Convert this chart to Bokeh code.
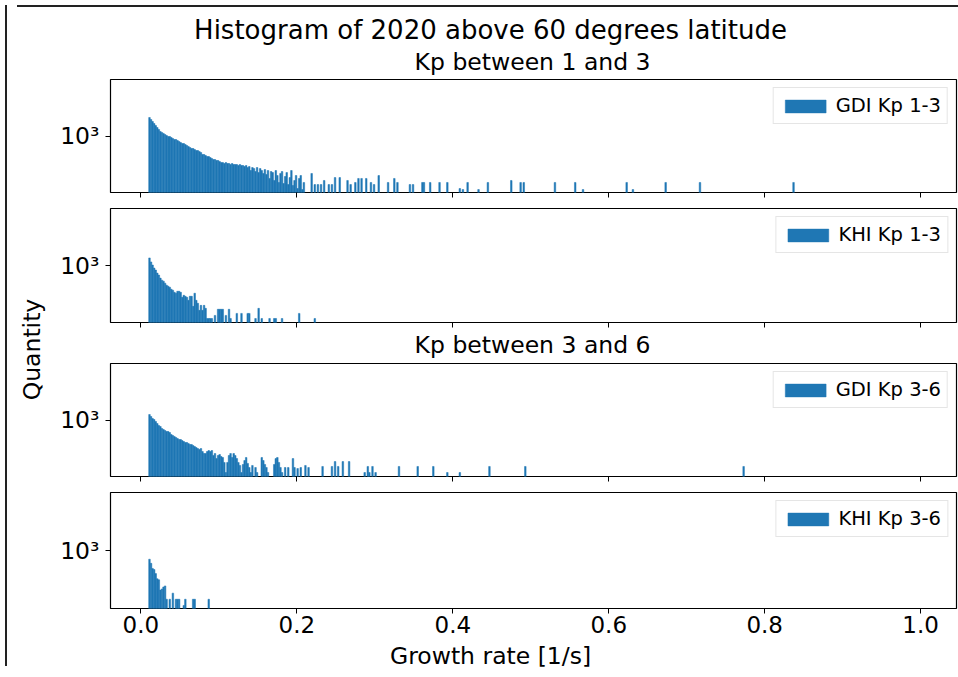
import math
from bokeh.plotting import figure
from bokeh.models import (Range1d, FixedTicker, PrintfTickFormatter, CustomJSTickFormatter,
                          CustomLabelingPolicy, Label, Div, ColumnDataSource)
from bokeh.layouts import column, row
from bokeh.embed import file_html
from bokeh.resources import INLINE

# ---------------- data ----------------
suptitle = "Histogram of 2020 above 60 degrees latitude"
subtitles = ["Kp between 1 and 3", "Kp between 3 and 6"]
series_labels = ["GDI Kp 1-3", "KHI Kp 1-3", "GDI Kp 3-6", "KHI Kp 3-6"]
x_ticks = [0.0, 0.2, 0.4, 0.6, 0.8, 1.0]
y_ticks = [1000]
x_label = "Growth rate [1/s]"
y_label = "Quantity"

bin_start = 0.010
bin_width = 0.002

gdi13_dense = [1458, 1399, 1343, 1290, 1238, 1189, 1141, 1096, 1074, 1052,
               1031, 1010, 990, 990, 970, 950, 931, 931, 912, 894,
               876, 858, 858, 841, 824, 807, 791, 775, 775, 759,
               744, 744, 729, 714, 686, 686, 672, 658, 658, 645,
               632, 619, 619, 607, 607, 594, 582, 582, 571, 582,
               571, 571, 559, 571, 559, 559, 559, 548, 559, 548,
               548, 537, 548, 526, 537, 495, 526, 515, 485, 526,
               475, 515, 495, 466, 505, 456, 495, 421, 485, 475,
               404, 495, 447, 388, 466, 485, 380, 438, 475, 372,
               429, 495, 365, 404, 447, 343, 421, 447, 336, 388]
gdi13_sparse_x = [0.218, 0.222, 0.226, 0.230, 0.234, 0.240, 0.244, 0.248, 0.254, 0.264,
                  0.268, 0.274, 0.278, 0.282, 0.288, 0.294, 0.298, 0.304, 0.316, 0.324,
                  0.328, 0.344, 0.348, 0.360, 0.362, 0.370, 0.382, 0.392, 0.408, 0.412,
                  0.418, 0.432, 0.444, 0.474, 0.486, 0.490, 0.530, 0.556, 0.566, 0.622,
                  0.630, 0.672, 0.716, 0.836]
gdi13_sparse_n = [466, 372, 372, 372, 404, 372, 372, 429, 429, 404,
                  372, 388, 421, 421, 421, 388, 372, 447, 388, 421,
                  388, 372, 372, 388, 388, 388, 388, 388, 343, 336,
                  388, 336, 388, 404, 388, 388, 388, 388, 336, 388,
                  336, 388, 388, 388]

khi13_dense = [1165, 1074, 1010, 950, 912, 858, 824, 775, 744, 729,
               700, 672, 658, 645, 619, 607, 582, 571, 594, 594,
               582, 526, 548, 537, 526, 495, 537, 537, 438, 571,
               495, 466, 404, 447, 404, 447, 421, 343, 343, 343,
               343, 0, 365, 0, 413, 413, 413, 413, 0, 365,
               0, 413, 343]
khi13_sparse_x = [0.122, 0.128, 0.136, 0.138, 0.146, 0.150, 0.154, 0.164, 0.170, 0.172,
                  0.180, 0.202, 0.222]
khi13_sparse_n = [380, 380, 380, 380, 343, 421, 343, 343, 343, 343,
                  343, 380, 343]

gdi36_dense = [1118, 1074, 1031, 1010, 970, 931, 894, 876, 841, 824,
               807, 791, 791, 775, 744, 729, 714, 700, 686, 672,
               672, 658, 645, 632, 632, 619, 607, 607, 594, 582,
               571, 559, 548, 559, 526, 505, 505, 526, 537, 526,
               537, 485, 505, 456, 485, 495, 475, 466, 421, 343,
               421, 485, 505, 466, 505, 485, 456, 421, 396, 343,
               404, 438, 466, 413, 380, 343, 396, 0, 380, 343,
               0, 0, 466, 438, 404, 380, 343, 0, 0, 0,
               404, 456, 466, 421, 380, 343, 0, 380, 0, 380,
               0, 0, 456, 380, 0, 372, 0, 380, 0, 0,
               396, 0, 380]
gdi36_sparse_x = [0.232, 0.244, 0.248, 0.252, 0.258, 0.266, 0.286, 0.290, 0.292, 0.296,
                  0.300, 0.330, 0.354, 0.374, 0.392, 0.408, 0.446, 0.492, 0.772]
gdi36_sparse_n = [388, 388, 429, 388, 429, 429, 343, 388, 343, 388,
                  343, 388, 388, 388, 343, 343, 388, 388, 388]

khi36_dense = [841, 775, 700, 686, 632, 571, 559, 456, 466, 485,
               495, 380, 0, 380, 0, 429, 0, 380, 380, 380,
               0, 0, 336, 380, 0, 0, 0, 0, 380, 380]
khi36_sparse_x = [0.086]
khi36_sparse_n = [380]

# ---------------- style / geometry ----------------
FONT = "DejaVu Sans"
BLUE = "#1f77b4"
x_rng = Range1d(-0.039, 1.046)
y_rng = Range1d(10 ** 2.5, 10 ** 3.5)
FIG_X = 50          # page x where the right-hand column starts
FIG_W = 906
STRIP_DX = -31      # measured correction of the text strips' horizontal placement
STRIP_DY = -3       # visual centre of 'middle' baseline sits a little low


def bins(dense, sx, sn):
    left = [bin_start + i * bin_width for i, n in enumerate(dense) if n > 0] + list(sx)
    top = [n for n in dense if n > 0] + list(sn)
    right = [l + bin_width for l in left]
    return dict(left=left, right=right, top=top, bottom=[1] * len(left))


def text_strip(height, top_y, items):
    """a blank strip (pixel-unit ranges) holding centred texts; items = (page_x, page_y, text, size)"""
    t = figure(width=FIG_W, height=height, x_range=Range1d(0, FIG_W), y_range=Range1d(0, height),
               output_backend="svg", toolbar_location=None, min_border=0,
               x_axis_location=None, y_axis_location=None)
    t.grid.visible = False
    t.outline_line_color = None
    for px, py, txt, size in items:
        t.add_layout(Label(x=px - FIG_X + STRIP_DX, y=height - (py + STRIP_DY - top_y), text=txt,
                           text_align="center", text_baseline="middle",
                           text_font=FONT, text_font_size=size, text_color="black"))
    return t


def make_panel(data, label, height, top, bottom, xlabels=False):
    p = figure(width=FIG_W, height=height, x_range=x_rng, y_range=y_rng, y_axis_type="log",
               output_backend="svg", toolbar_location=None,
               min_border_left=58, min_border_right=2, min_border_top=top, min_border_bottom=bottom,
               background_fill_color="white", border_fill_color="white")
    p.quad(left="left", right="right", bottom="bottom", top="top",
           source=ColumnDataSource(data), fill_color=BLUE, line_color=BLUE, line_width=0.5,
           legend_label=label)
    p.grid.visible = False
    p.outline_line_color = "black"
    p.outline_line_width = 1.2

    xa = p.xaxis[0]
    xa.ticker = FixedTicker(ticks=x_ticks, minor_ticks=[])
    xa.formatter = PrintfTickFormatter(format="%.1f")
    xa.axis_line_color = None
    xa.major_tick_out = 5
    xa.major_tick_in = 0
    xa.minor_tick_out = 0
    xa.minor_tick_in = 0
    xa.major_tick_line_color = "black"
    xa.major_label_text_font = FONT
    xa.major_label_text_color = "black"
    if xlabels:
        xa.major_label_text_font_size = "23px"
        xa.major_label_standoff = 2
    else:
        xa.major_label_text_font_size = "1px"
        xa.major_label_standoff = 0
        xa.major_label_policy = CustomLabelingPolicy(code="return new Set()")

    ya = p.yaxis[0]
    ya.ticker = FixedTicker(ticks=y_ticks, minor_ticks=[])
    ya.formatter = CustomJSTickFormatter(code="""
        const e = Math.round(Math.log10(tick));
        const s = {'0':'\u2070','1':'\u00b9','2':'\u00b2','3':'\u00b3','4':'\u2074','5':'\u2075'};
        return '10' + String(e).split('').map(c => s[c]).join('');
    """)
    ya.axis_line_color = None
    ya.major_tick_out = 5
    ya.major_tick_in = 0
    ya.minor_tick_out = 0
    ya.minor_tick_in = 0
    ya.major_tick_line_color = "black"
    ya.major_label_text_font = FONT
    ya.major_label_text_color = "black"
    ya.major_label_text_font_size = "23.5px"
    ya.major_label_standoff = 6

    lg = p.legend[0]
    lg.location = "top_right"
    lg.margin = 8
    lg.padding = 6
    lg.spacing = 0
    lg.glyph_width = 51
    lg.glyph_height = 16
    lg.label_standoff = 5
    lg.label_text_font = FONT
    lg.label_text_font_size = "19.5px"
    lg.label_text_color = "black"
    lg.border_line_color = "#cccccc"
    lg.border_line_width = 1
    lg.background_fill_alpha = 0.8
    return p


# vertical stack (page y): 10 | t1 66 | f1 124 | f2 129 | t3 30 | f3 124 | f4 157 | t4 28 | 668
t1 = text_strip(66, 10, [(488, 30, suptitle, "26px"), (533, 62, subtitles[0], "23.5px")])
f1 = make_panel(bins(gdi13_dense, gdi13_sparse_x, gdi13_sparse_n), series_labels[0], 124, 1, 10)
f2 = make_panel(bins(khi13_dense, khi13_sparse_x, khi13_sparse_n), series_labels[1], 129, 6, 7)
t3 = text_strip(30, 329, [(533, 345, subtitles[1], "23.5px")])
f3 = make_panel(bins(gdi36_dense, gdi36_sparse_x, gdi36_sparse_n), series_labels[2], 124, 2, 8)
f4 = make_panel(bins(khi36_dense, khi36_sparse_x, khi36_sparse_n), series_labels[3], 157, 7, 34,
                xlabels=True)
t4 = text_strip(28, 640, [(488, 656, x_label, "23.5px")])

total_h = 66 + 124 + 129 + 30 + 124 + 157 + 28
lf = figure(width=40, height=total_h, x_range=Range1d(0, 40), y_range=Range1d(0, total_h),
            output_backend="svg", toolbar_location=None, min_border=0,
            x_axis_location=None, y_axis_location=None)
lf.grid.visible = False
lf.outline_line_color = None
lf.add_layout(Label(x=19, y=total_h - 337, text=y_label, angle=math.pi / 2,
                    text_align="center", text_baseline="middle", text_font=FONT,
                    text_font_size="23.5px", text_color="black"))

top_bar = Div(text="", width=946, height=2, styles={"background-color": "#222222"})
left_bar = Div(text="", width=2, height=total_h + 3, styles={"background-color": "#222222"})

layout = row(left_bar, column(top_bar, row(lf, column(t1, f1, f2, t3, f3, f4, t4))))

open("out.html", "w").write(file_html(layout, INLINE))
